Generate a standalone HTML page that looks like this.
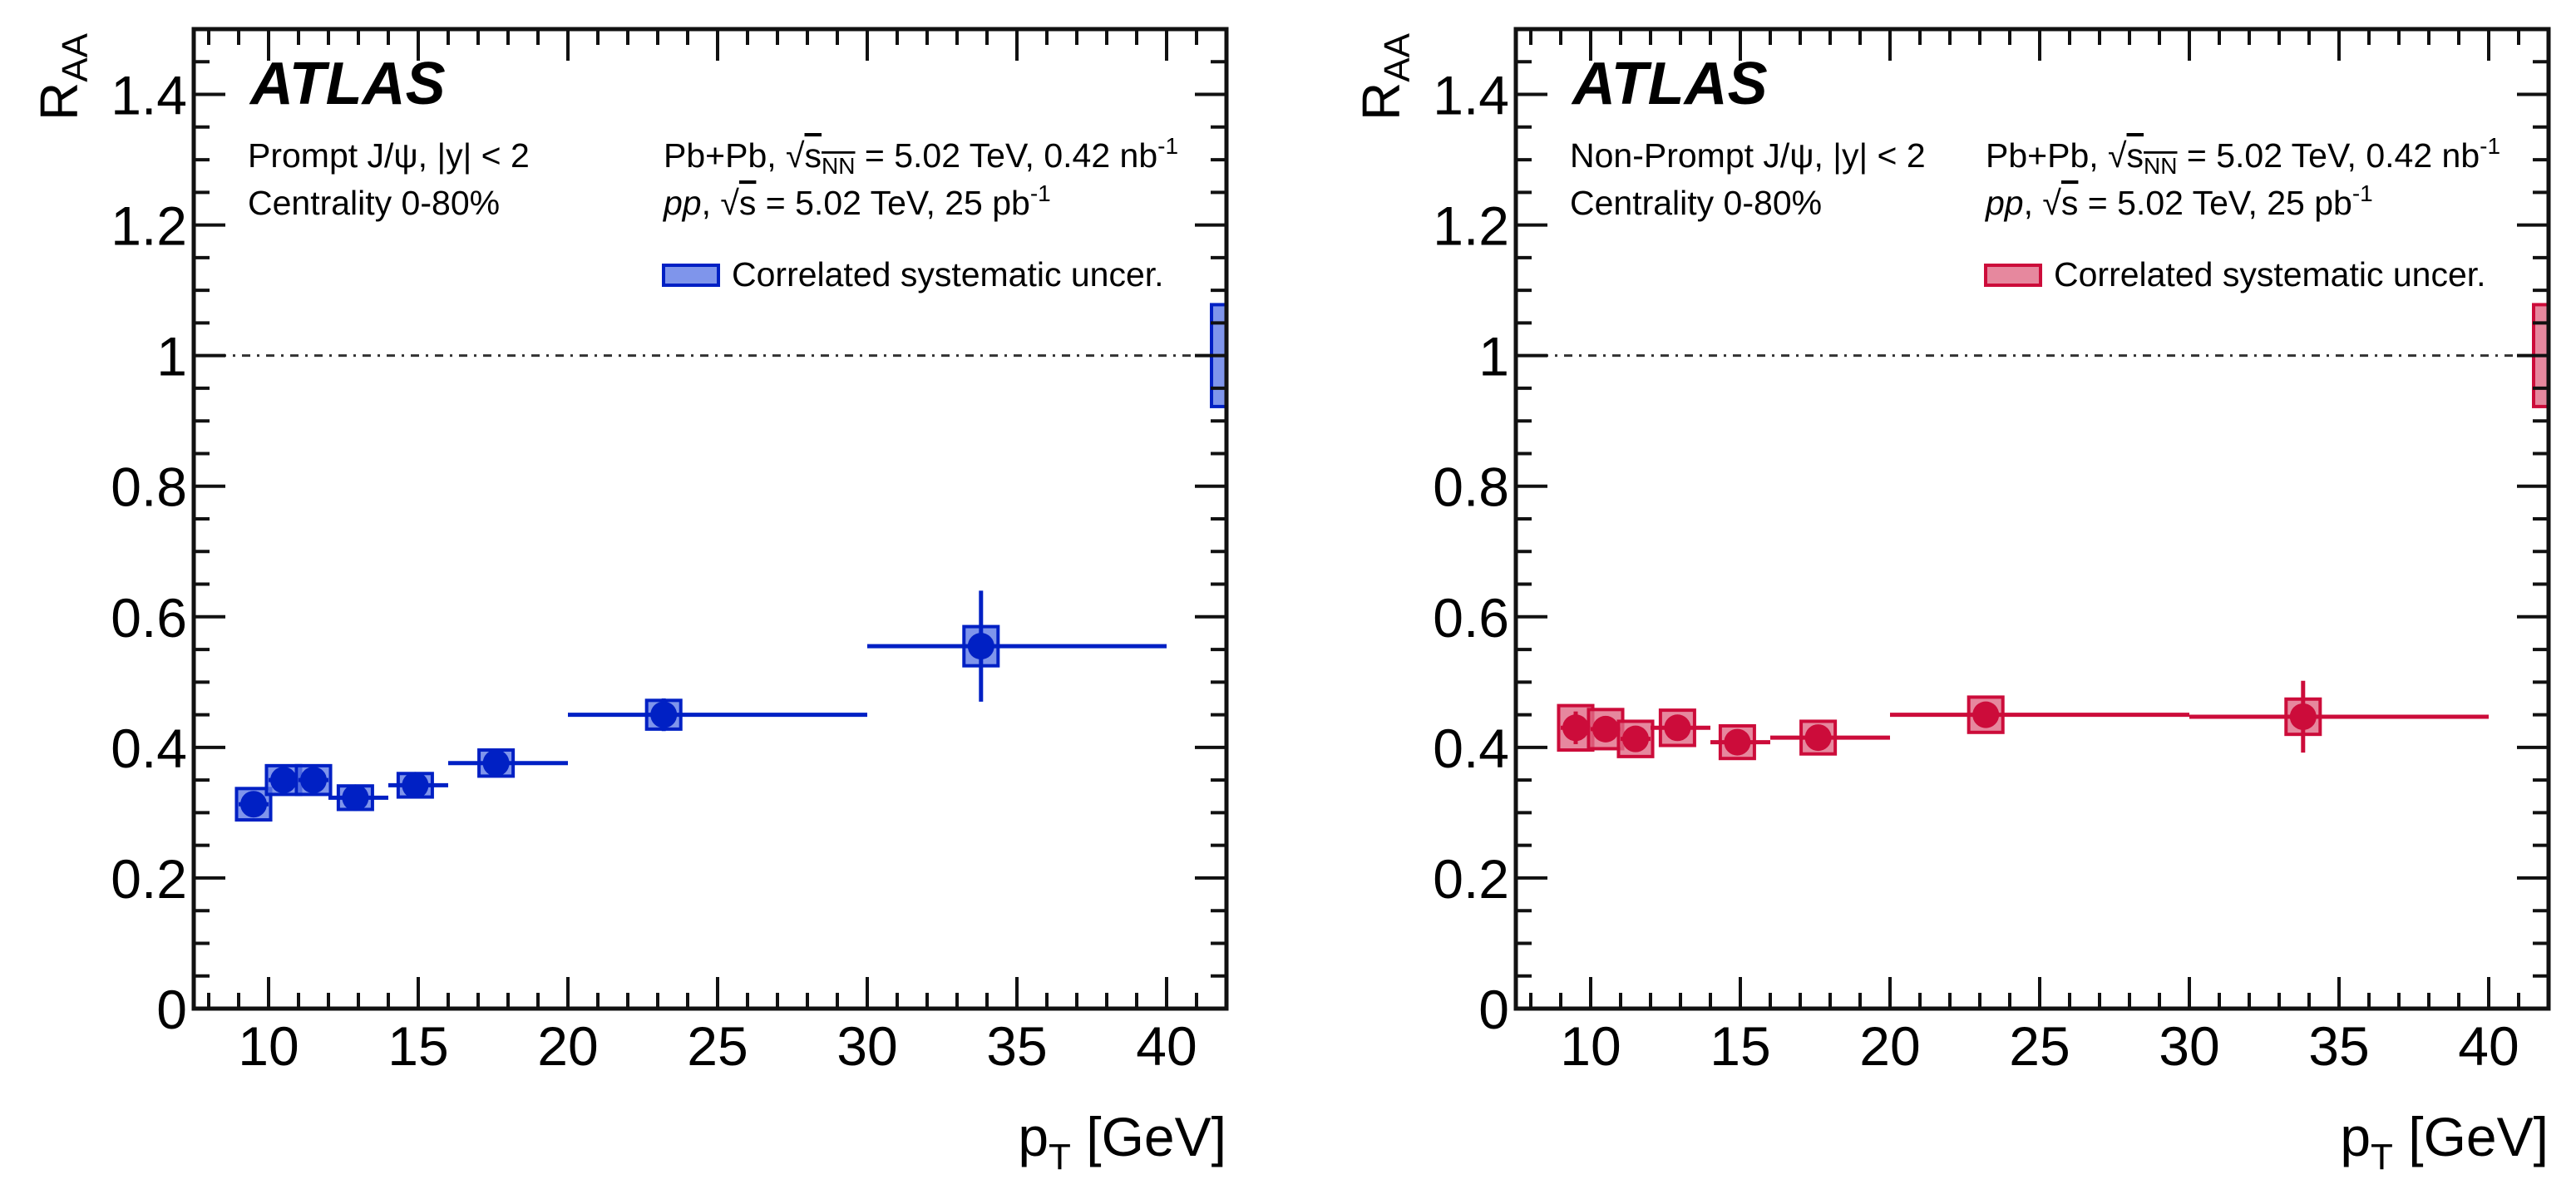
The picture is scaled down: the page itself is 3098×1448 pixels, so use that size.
<!DOCTYPE html>
<html><head><meta charset="utf-8"><style>
html,body{margin:0;padding:0;background:#fff;}
svg{display:block;font-family:"Liberation Sans",Arial,sans-serif;}
</style></head><body>
<svg id="fig" width="3098" height="1448" viewBox="0 0 3098 1448"></svg>
<script>
const binLo = [9,10,11,12,14,16,20,30];
const binHi = [10,11,12,14,16,20,30,40];
const ptCenters = [9.5,10.5,11.5,12.9,14.9,17.6,23.2,33.8];
const promptVals = [0.313,0.350,0.350,0.323,0.342,0.376,0.450,0.555];
const promptStat = [0.02,0.02,0.02,0.015,0.015,0.02,0.025,0.085];
const promptSys = [0.024,0.022,0.022,0.018,0.018,0.02,0.022,0.03];
const nonpromptVals = [0.430,0.428,0.413,0.430,0.408,0.415,0.450,0.447];
const nonpromptStat = [0.025,0.02,0.02,0.02,0.015,0.015,0.02,0.055];
const nonpromptSys = [0.034,0.03,0.027,0.027,0.025,0.025,0.027,0.027];
const globalSys = [0.078,0.078];
const xTicks = [10,15,20,25,30,35,40];
const yTicks = [0,0.2,0.4,0.6,0.8,1,1.2,1.4];
const yTickLabels = ["0","0.2","0.4","0.6","0.8","1","1.2","1.4"];

const NS="http://www.w3.org/2000/svg";
const svg=document.getElementById('fig');
function mk(tag,attrs,parent){const e=document.createElementNS(NS,tag);for(const k in attrs)e.setAttribute(k,attrs[k]);(parent||svg).appendChild(e);return e;}

const X0=7.5,X1=42,Y0=0,Y1=1.5;
const TOP=35,BOT=1213,W=1242;

function panel(off,name,vals,stat,sys,col,fill,label1,gsys){
  const L=233+off,R=L+W;
  const g=mk('g',{});
  
  
  const sx=v=>L+(v-X0)/(X1-X0)*W;
  const sy=v=>BOT-(v-Y0)/(Y1-Y0)*(BOT-TOP);
  const ref=mk('line',{x1:L,x2:R,y1:sy(1),y2:sy(1),stroke:'#333',"stroke-width":3,"stroke-dasharray":"10 8 3 8"},g);
  
  
  const gb=mk('rect',{x:sx(41.5),y:sy(1+gsys),width:sx(42)-sx(41.5),height:sy(1-gsys)-sy(1+gsys),fill:fill,"fill-opacity":0.8,stroke:col,"stroke-width":4},g);
  
  
  for(let i=0;i<vals.length;i++){
    const bw=0.57;
    const b=mk('rect',{x:sx(ptCenters[i]-bw),y:sy(vals[i]+sys[i]),width:sx(ptCenters[i]+bw)-sx(ptCenters[i]-bw),height:sy(vals[i]-sys[i])-sy(vals[i]+sys[i]),fill:fill,"fill-opacity":0.8,stroke:col,"stroke-width":4},g);
    
    
    const h=mk('line',{x1:sx(binLo[i]),x2:sx(binHi[i]),y1:sy(vals[i]),y2:sy(vals[i]),stroke:col,"stroke-width":5},g);
    
    
    const v=mk('line',{x1:sx(ptCenters[i]),x2:sx(ptCenters[i]),y1:sy(vals[i]-stat[i]),y2:sy(vals[i]+stat[i]),stroke:col,"stroke-width":5},g);
    
    
    const c=mk('circle',{cx:sx(ptCenters[i]),cy:sy(vals[i]),r:16,fill:col},g);
    
    
  }
  for(let v=8;v<=42;v++){
    const major=v%5===0;const len=major?38:19;
    mk('line',{x1:sx(v),x2:sx(v),y1:BOT,y2:BOT-len,stroke:'#111',"stroke-width":4},g);
    mk('line',{x1:sx(v),x2:sx(v),y1:TOP,y2:TOP+len,stroke:'#111',"stroke-width":4},g);
  }
  for(let k=0;k<=30;k++){
    const v=k*0.05;const major=k%4===0;const len=major?38:19;
    mk('line',{x1:L,x2:L+len,y1:sy(v),y2:sy(v),stroke:'#111',"stroke-width":4},g);
    mk('line',{x1:R,x2:R-len,y1:sy(v),y2:sy(v),stroke:'#111',"stroke-width":4},g);
  }
  const fr=mk('rect',{x:L,y:TOP,width:W,height:BOT-TOP,fill:'none',stroke:'#111',"stroke-width":5},g);
  
  
  xTicks.forEach(v=>{
    const t=mk('text',{x:sx(v),y:1281,"font-size":66,"text-anchor":"middle",fill:'#000'},g);t.textContent=v;
    
    
  });
  yTicks.forEach((v,i)=>{
    const t=mk('text',{x:L-8,y:sy(v)+24,"font-size":66,"text-anchor":"end",fill:'#000'},g);t.textContent=yTickLabels[i];
    
    
  });
  const yt=mk('text',{x:0,y:0,"font-size":64,transform:`translate(${L-140},${TOP+110}) rotate(-90)`,fill:'#000'},g);
  yt.innerHTML='R<tspan font-size="44" dy="12">AA</tspan>';
  
  
  const xt=mk('text',{x:R,y:1390,"font-size":66,"text-anchor":"end",fill:'#000'},g);
  xt.innerHTML='p<tspan font-size="44" dy="16">T</tspan><tspan dy="-16"> [GeV]</tspan>';
  
  
  const at=mk('text',{x:L+68,y:125,"font-size":72,"font-weight":"bold","font-style":"italic",fill:'#000'},g);at.textContent='ATLAS';
  
  
  const t1=mk('text',{x:L+65,y:201,"font-size":41,fill:'#000'},g);t1.textContent=label1;
  
  
  const t2=mk('text',{x:L+65,y:258,"font-size":41,fill:'#000'},g);t2.textContent='Centrality 0-80%';
  
  
  const t3=mk('text',{x:L+565,y:201,"font-size":41,fill:'#000'},g);
  t3.innerHTML='Pb+Pb, √<tspan text-decoration="overline">s<tspan font-size="28" dy="8">NN</tspan></tspan><tspan dy="-8"> = 5.02 TeV, 0.42 nb</tspan><tspan font-size="28" dy="-16">-1</tspan>';
  
  
  const t4=mk('text',{x:L+565,y:258,"font-size":41,fill:'#000'},g);
  t4.innerHTML='<tspan font-style="italic">pp</tspan>, √<tspan text-decoration="overline">s</tspan> = 5.02 TeV, 25 pb<tspan font-size="28" dy="-16">-1</tspan>';
  
  
  const lb=mk('rect',{x:L+565,y:319,width:66,height:24,fill:fill,"fill-opacity":0.8,stroke:col,"stroke-width":4},g);
  
  
  const lt=mk('text',{x:L+647,y:344,"font-size":41,fill:'#000'},g);lt.textContent='Correlated systematic uncer.';
  
  
}
panel(0,'prompt-panel',promptVals,promptStat,promptSys,'#0020c4','#5f7ae6','Prompt J/ψ, |y| < 2',globalSys[0]);
panel(1590,'nonprompt-panel',nonpromptVals,nonpromptStat,nonpromptSys,'#cc0c3a','#e06a86','Non-Prompt J/ψ, |y| < 2',globalSys[1]);
</script>
</body></html>
